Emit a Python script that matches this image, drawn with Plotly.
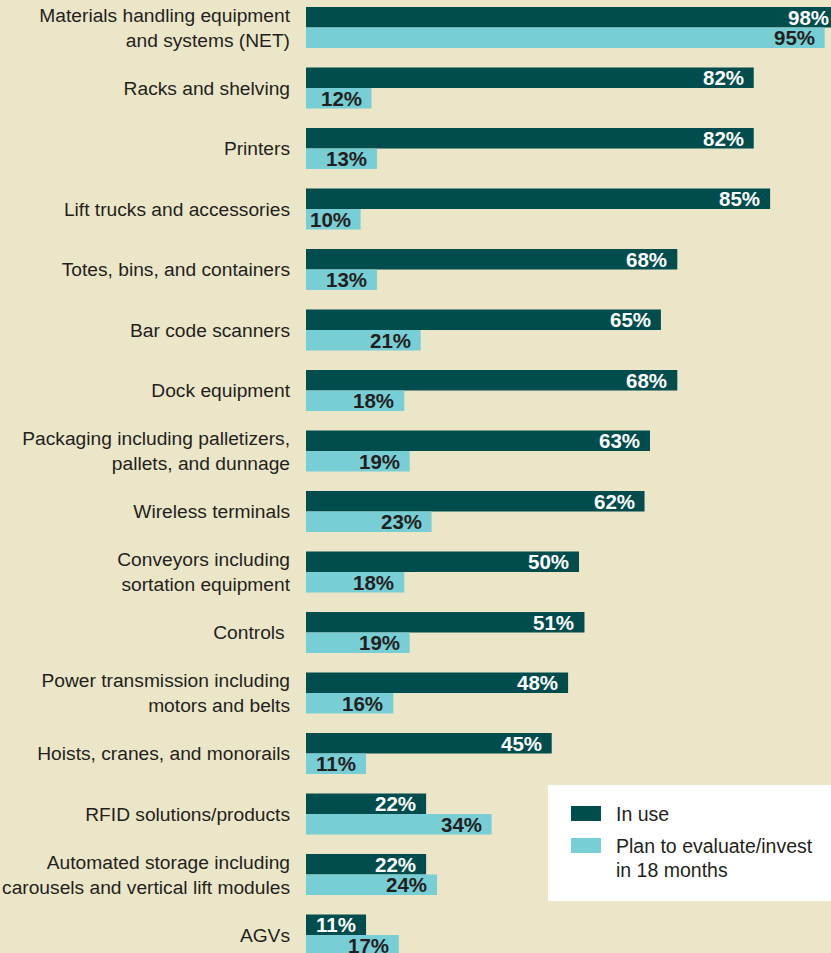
import plotly.graph_objects as go

# Survey categories, top to bottom
categories = [
    "Materials handling equipment<br>and systems (NET)",
    "Racks and shelving",
    "Printers",
    "Lift trucks and accessories",
    "Totes, bins, and containers",
    "Bar code scanners",
    "Dock equipment",
    "Packaging including palletizers,<br>pallets, and dunnage",
    "Wireless terminals",
    "Conveyors including<br>sortation equipment",
    "Controls\u00a0",
    "Power transmission including<br>motors and belts",
    "Hoists, cranes, and monorails",
    "RFID solutions/products",
    "Automated storage including<br>carousels and vertical lift modules",
    "AGVs",
]
in_use = [98, 82, 82, 85, 68, 65, 68, 63, 62, 50, 51, 48, 45, 22, 22, 11]
plan_to_invest = [95, 12, 13, 10, 13, 21, 18, 19, 23, 18, 19, 16, 11, 34, 24, 17]

series_names = ["In use", "Plan to evaluate/invest<br>in 18 months"]

BG = "#ECE6C8"
DARK = "#014D4E"
LIGHT = "#77CED5"
TEXT = "#231F20"
FONT = "Liberation Sans, Arial, Helvetica, sans-serif"

W, H = 831, 953
ML = 306
XMAX = 96.15
Y_RANGE = [15.298, -0.4545]
BARGAP = 0.32

pos = list(range(len(categories)))

fig = go.Figure()
fig.add_trace(go.Bar(y=pos, x=in_use, orientation="h", name=series_names[0],
                     marker=dict(color=DARK, line=dict(width=0)), hoverinfo="x+y"))
fig.add_trace(go.Bar(y=pos, x=plan_to_invest, orientation="h", name=series_names[1],
                     marker=dict(color=LIGHT, line=dict(width=0)), hoverinfo="x+y"))

# Value labels at the end of each bar
half = (1 - BARGAP) / 4
annotations = []
for vals, off, col in ((in_use, -half, "white"), (plan_to_invest, half, TEXT)):
    for i, v in enumerate(vals):
        clipped = v > XMAX
        annotations.append(dict(
            x=min(v, XMAX), y=i + off, xref="x", yref="y",
            text=f"<b>{v}%</b>", showarrow=False,
            xanchor="right", yanchor="middle",
            xshift=0 if clipped else -8,
            font=dict(family=FONT, size=20.5, color=col),
        ))


def px_x(p):
    return (p - ML) / (W - ML)


def px_y(p):
    return 1 - p / H


# Legend panel
shapes = [
    dict(type="rect", xref="paper", yref="paper",
         x0=px_x(548), x1=px_x(831), y0=px_y(901), y1=px_y(785),
         fillcolor="white", line=dict(width=0), layer="above"),
    dict(type="rect", xref="paper", yref="paper",
         x0=px_x(571), x1=px_x(601), y0=px_y(821), y1=px_y(806),
         fillcolor=DARK, line=dict(width=0), layer="above"),
    dict(type="rect", xref="paper", yref="paper",
         x0=px_x(571), x1=px_x(601), y0=px_y(853), y1=px_y(838),
         fillcolor=LIGHT, line=dict(width=0), layer="above"),
]
legend_lines = [("In use", 814), ("Plan to evaluate/invest", 846), ("in 18 months", 870)]
for txt, py in legend_lines:
    annotations.append(dict(
        x=px_x(614), y=px_y(py), xref="paper", yref="paper",
        text=txt, showarrow=False, xanchor="left", yanchor="middle",
        font=dict(family=FONT, size=19.5, color=TEXT),
    ))

fig.update_layout(
    width=W, height=H,
    margin=dict(l=ML, r=0, t=0, b=0, autoexpand=False),
    paper_bgcolor=BG, plot_bgcolor=BG,
    barmode="group", bargap=BARGAP, bargroupgap=0,
    showlegend=False,
    font=dict(family=FONT, size=19.2, color=TEXT),
    xaxis=dict(range=[0, XMAX], visible=False, fixedrange=True),
    yaxis=dict(range=Y_RANGE, tickvals=pos, ticktext=categories,
               showgrid=False, zeroline=False, showline=False, ticks="",
               ticklabelstandoff=15, automargin=False,
               tickfont=dict(family=FONT, size=19.2, color=TEXT)),
    annotations=annotations,
    shapes=shapes,
)

fig.write_html("out.html")
